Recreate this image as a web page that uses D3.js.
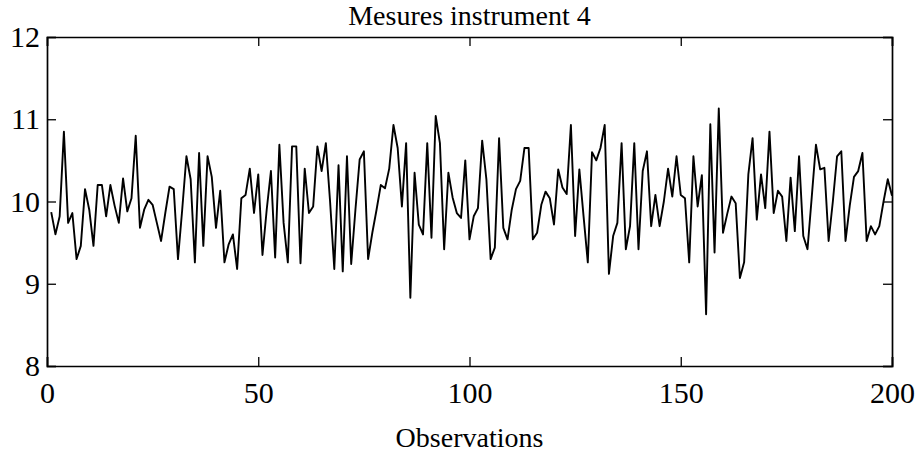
<!DOCTYPE html>
<html>
<head>
<meta charset="utf-8">
<script src="https://cdn.jsdelivr.net/npm/d3@7"></script>
<style>
	body { margin: 0; background: #fff; }
	svg { display: block; }
	text { font-family: "Liberation Serif", "Times New Roman", serif; fill: #000; }
</style>
</head>
<body>
<div id="chart"></div>
<script>
var titre = "Mesures instrument 4",
		labelX = "Observations";

var ticksX = [0, 50, 100, 150, 200],
		ticksY = [8, 9, 10, 11, 12];

// one value per observation, 1..200
var mesures = [
	9.87, 9.6, 9.82, 10.85, 9.74, 9.86, 9.3, 9.46, 10.15, 9.9,
	9.46, 10.2, 10.2, 9.82, 10.2, 9.95, 9.74, 10.28, 9.88, 10.04,
	10.8, 9.68, 9.9, 10.02, 9.96, 9.74, 9.52, 9.86, 10.18, 10.15,
	9.3, 9.9, 10.55, 10.27, 9.26, 10.59, 9.46, 10.55, 10.3, 9.68,
	10.13, 9.26, 9.48, 9.6, 9.18, 10.04, 10.08, 10.4, 9.86, 10.33,
	9.35, 9.9, 10.37, 9.32, 10.69, 9.74, 9.26, 10.67, 10.67, 9.25,
	10.4, 9.86, 9.94, 10.67, 10.37, 10.71, 10.0, 9.18, 10.44, 9.15,
	10.55, 9.24, 9.9, 10.51, 10.61, 9.3, 9.62, 9.9, 10.2, 10.16,
	10.4, 10.93, 10.65, 9.94, 10.71, 8.83, 10.35, 9.72, 9.6, 10.71,
	9.56, 11.04, 10.71, 9.42, 10.35, 10.05, 9.86, 9.8, 10.5, 9.54,
	9.82, 9.92, 10.74, 10.27, 9.3, 9.44, 10.77, 9.68, 9.54, 9.9,
	10.15, 10.25, 10.65, 10.65, 9.54, 9.62, 9.96, 10.12, 10.04, 9.72,
	10.39, 10.17, 10.09, 10.93, 9.58, 10.39, 9.82, 9.26, 10.6, 10.5,
	10.65, 10.93, 9.12, 9.58, 9.74, 10.71, 9.42, 9.7, 10.71, 9.42,
	10.37, 10.61, 9.7, 10.08, 9.7, 10.0, 10.4, 10.06, 10.55, 10.08,
	10.04, 9.26, 10.55, 9.94, 10.32, 8.63, 10.94, 9.38, 11.13, 9.62,
	9.85, 10.06, 9.98, 9.07, 9.26, 10.33, 10.77, 9.78, 10.33, 9.92,
	10.85, 9.86, 10.13, 10.06, 9.52, 10.29, 9.64, 10.55, 9.58, 9.42,
	10.05, 10.69, 10.39, 10.41, 9.52, 10.0, 10.55, 10.61, 9.52, 9.95,
	10.3, 10.37, 10.59, 9.52, 9.7, 9.6, 9.7, 10.0, 10.27, 10.07
];

var W = 919, H = 454;
var margin = {top: 37, right: 27, bottom: 88, left: 47};
var width = W - margin.left - margin.right,
		height = H - margin.top - margin.bottom;

var svg = d3.select("#chart").append("svg")
		.attr("width", W)
		.attr("height", H);

svg.append("rect")
		.attr("width", W)
		.attr("height", H)
		.attr("fill", "#fff");

var g = svg.append("g")
		.attr("transform", "translate(" + margin.left + "," + margin.top + ")");

var x = d3.scaleLinear().domain([0, 200]).range([0, width]),
		y = d3.scaleLinear().domain([8, 12]).range([height, 0]);

var tickLen = 9;

// axes, matlab style: ticks inward on all four sides
var axisBottom = d3.axisBottom(x).tickValues(ticksX).tickSize(-tickLen).tickPadding(16).tickFormat(d3.format("d")),
		axisLeft = d3.axisLeft(y).tickValues(ticksY).tickSize(-tickLen).tickPadding(7).tickFormat(d3.format("d")),
		axisTop = d3.axisTop(x).tickValues(ticksX).tickSize(-tickLen).tickFormat(""),
		axisRight = d3.axisRight(y).tickValues(ticksY).tickSize(-tickLen).tickFormat("");

g.append("g")
		.attr("class", "axis axis--x")
		.attr("transform", "translate(0," + height + ")")
		.call(axisBottom);

g.append("g")
		.attr("class", "axis axis--y")
		.call(axisLeft);

g.append("g")
		.attr("class", "axis axis--top")
		.call(axisTop);

g.append("g")
		.attr("class", "axis axis--right")
		.attr("transform", "translate(" + width + ",0)")
		.call(axisRight);

g.selectAll(".axis path")
		.attr("stroke", "#000")
		.attr("stroke-width", 1.7);
g.selectAll(".axis line")
		.attr("stroke", "#000")
		.attr("stroke-width", 1.3);
g.selectAll(".axis text")
		.attr("font-family", "'Liberation Serif', 'Times New Roman', serif")
		.attr("font-size", 30)
		.attr("fill", "#000");

var line = d3.line()
		.x(function(d, i) { return x(i + 1); })
		.y(function(d) { return y(d); });

g.append("path")
		.datum(mesures)
		.attr("fill", "none")
		.attr("stroke", "#000")
		.attr("stroke-width", 1.9)
		.attr("stroke-linejoin", "round")
		.attr("d", line);

svg.append("text")
		.attr("x", margin.left + width / 2)
		.attr("y", 25)
		.attr("text-anchor", "middle")
		.attr("font-size", 28)
		.text(titre);

svg.append("text")
		.attr("x", margin.left + width / 2)
		.attr("y", 447)
		.attr("text-anchor", "middle")
		.attr("font-size", 28)
		.text(labelX);
</script>
</body>
</html>
